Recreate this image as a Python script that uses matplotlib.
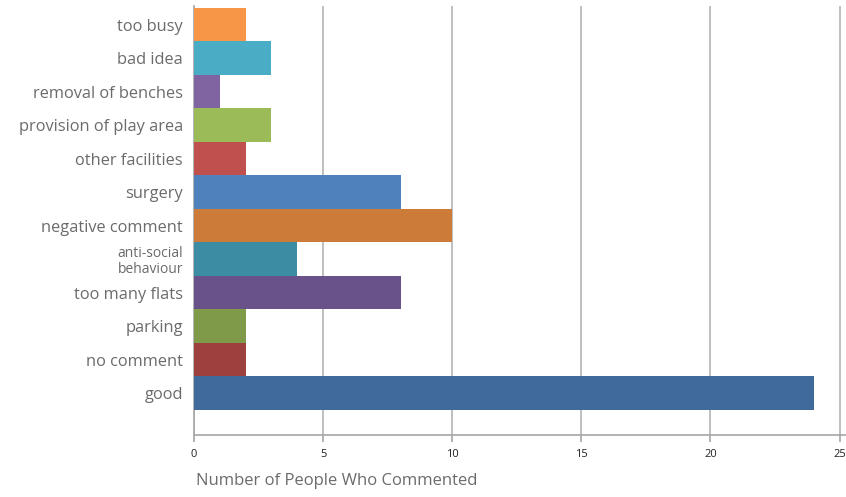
import matplotlib
matplotlib.use('Agg')
import matplotlib.pyplot as plt

# categories listed bottom to top
categories = ['good', 'no comment', 'parking', 'too many flats', 'anti-social\nbehaviour',
              'negative comment', 'surgery', 'other facilities', 'provision of play area',
              'removal of benches', 'bad idea', 'too busy']
counts = [24, 2, 2, 8, 4, 10, 8, 2, 3, 1, 3, 2]
colors = ['#416A9C', '#9E413E', '#7F9A48', '#69518A', '#3C8DA3', '#CC7B38',
          '#4F81BD', '#C0504D', '#9BBB59', '#8064A2', '#4BACC6', '#F79646']
xticks = [0, 5, 10, 15, 20, 25]

plt.rcParams['font.family'] = ['Open Sans', 'DejaVu Sans']

fig = plt.figure(figsize=(8.46, 4.97), dpi=100)
ax = fig.add_axes([194 / 846, 1 - 435 / 497, 652 / 846, 429 / 497])

pos = list(range(len(categories)))
ax.barh(pos, counts, height=1.0, color=colors, zorder=3)

ax.set_xlim(0, 25.25)
ax.set_ylim(-1.25, 11.56)
ax.set_xticks(xticks)
ax.set_yticks(pos)
ax.set_yticklabels(categories)
for lbl in ax.get_yticklabels():
    lbl.set_color('#6b6b6b')
    if '\n' in lbl.get_text():
        lbl.set_fontsize(10)
        lbl.set_linespacing(1.05)
    else:
        lbl.set_fontsize(11.8)

ax.tick_params(axis='y', length=0, pad=8)
ax.tick_params(axis='x', length=5, width=1.2, color='#a6a6a6', labelsize=8,
               labelcolor='#222222', pad=5)

ax.grid(axis='x', color='#bfbfbf', linewidth=1.4, zorder=0)
for s in ['top', 'right']:
    ax.spines[s].set_visible(False)
for s in ['left', 'bottom']:
    ax.spines[s].set_color('#a6a6a6')
    ax.spines[s].set_linewidth(1.2)

fig.text(196 / 846, 1 - 481 / 497, 'Number of People Who Commented', fontsize=12,
         color='#6b6b6b', ha='left', va='center')

fig.savefig('out.png', dpi=100)
